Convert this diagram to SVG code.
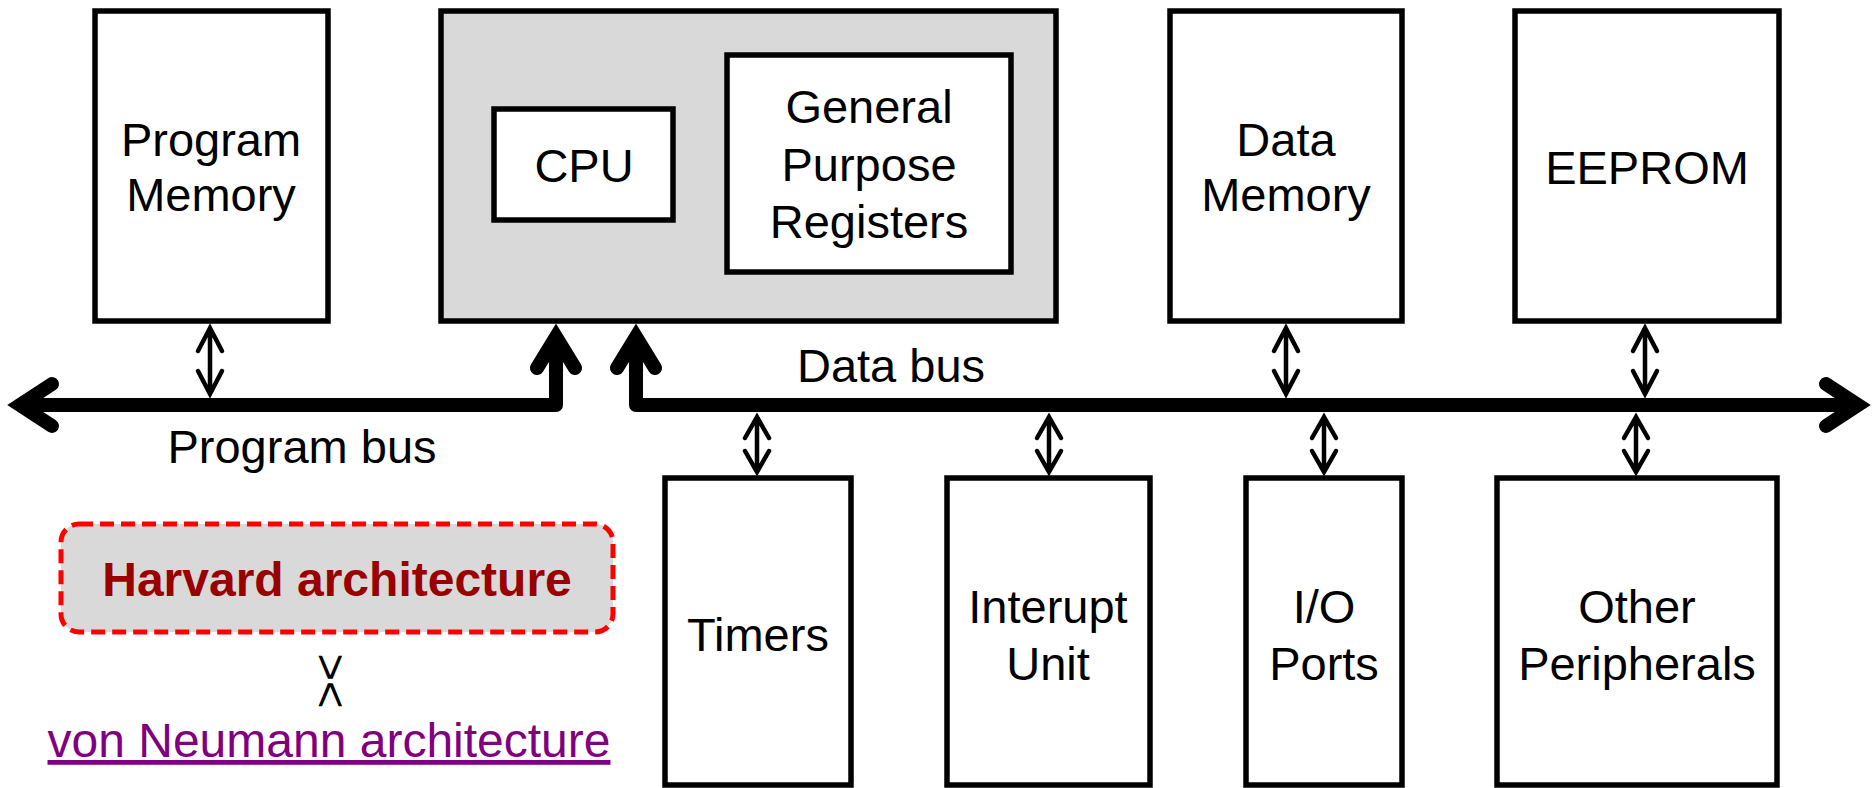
<svg xmlns="http://www.w3.org/2000/svg" width="1874" height="788" viewBox="0 0 1874 788">
<style>
.box{fill:#fff;stroke:#000;stroke-width:5.5}
.gray{fill:#d9d9d9;stroke:#000;stroke-width:5.5}
.t{font-family:"Liberation Sans",Arial,sans-serif;font-size:47px;fill:#000;text-anchor:middle}
.bus{fill:none;stroke:#000;stroke-width:14;stroke-linejoin:round}
.head{fill:none;stroke:#000;stroke-width:14;stroke-linejoin:miter;stroke-linecap:round}
.thin{fill:none;stroke:#000;stroke-width:4.5;stroke-linejoin:miter;stroke-linecap:round}
</style>
<rect width="1874" height="788" fill="#fff"/>
<g id="program-memory"><rect class="box" x="95" y="11" width="233" height="310"/><text class="t" x="211" y="156">Program</text><text class="t" x="211" y="211">Memory</text></g>
<g id="core"><rect class="gray" x="441" y="11" width="615" height="310"/></g>
<g id="cpu"><rect class="box" x="494" y="109" width="179" height="111"/><text class="t" x="584" y="182">CPU</text></g>
<g id="gpr"><rect class="box" x="727" y="55" width="284" height="217"/><text class="t" x="869" y="123">General</text><text class="t" x="869" y="181">Purpose</text><text class="t" x="869" y="238">Registers</text></g>
<g id="data-memory"><rect class="box" x="1170" y="11" width="232" height="310"/><text class="t" x="1286" y="156">Data</text><text class="t" x="1286" y="211">Memory</text></g>
<g id="eeprom"><rect class="box" x="1515" y="11" width="264" height="310"/><text class="t" x="1647" y="184">EEPROM</text></g>
<g id="timers"><rect class="box" x="665" y="478" width="186" height="307"/><text class="t" x="758" y="651">Timers</text></g>
<g id="interrupt"><rect class="box" x="947" y="478" width="203" height="307"/><text class="t" x="1048" y="623">Interupt</text><text class="t" x="1048" y="680">Unit</text></g>
<g id="io"><rect class="box" x="1246" y="478" width="156" height="307"/><text class="t" x="1324" y="623">I/O</text><text class="t" x="1324" y="680">Ports</text></g>
<g id="other"><rect class="box" x="1497" y="478" width="280" height="307"/><text class="t" x="1637" y="623">Other</text><text class="t" x="1637" y="680">Peripherals</text></g>
<g id="connectors">
<path class="bus" d="M20 405H556V340"/>
<path class="head" d="M52 384L20 405L52 426"/>
<path class="head" d="M537 368L556 337L575 368"/>
<path class="bus" d="M636 340V405H1856"/>
<path class="head" d="M617 368L636 337L655 368"/>
<path class="head" d="M1826 384L1858 405L1826 426"/>
<g class="thin">
<path d="M210 328V394M198 351L210 328L222 351M198 371L210 394L222 371"/>
<path d="M1286 328V394M1274 351L1286 328L1298 351M1274 371L1286 394L1298 371"/>
<path d="M1645 328V394M1633 351L1645 328L1657 351M1633 371L1645 394L1657 371"/>
<path d="M757 417V472M745 438L757 417L769 438M745 451L757 472L769 451"/>
<path d="M1049 417V472M1037 438L1049 417L1061 438M1037 451L1049 472L1061 451"/>
<path d="M1324 417V472M1312 438L1324 417L1336 438M1312 451L1324 472L1336 451"/>
<path d="M1636 417V472M1624 438L1636 417L1648 438M1624 451L1636 472L1648 451"/>
</g>
</g>
<text class="t" x="302" y="463">Program bus</text>
<text class="t" x="891" y="382">Data bus</text>
<g id="harvard"><rect x="61" y="524" width="552" height="108" rx="18" fill="#d9d9d9" stroke="#ff0000" stroke-width="5" stroke-dasharray="14 7"/><text class="t" x="337" y="596" style="font-weight:bold;fill:#990000;font-size:48px">Harvard architecture</text></g>
<text class="t" transform="translate(331,681) rotate(90)" x="0" y="16">&gt;&lt;</text>
<text class="t" x="329" y="757" style="fill:#800080;text-decoration:underline;font-size:48px">von Neumann architecture</text>
</svg>
